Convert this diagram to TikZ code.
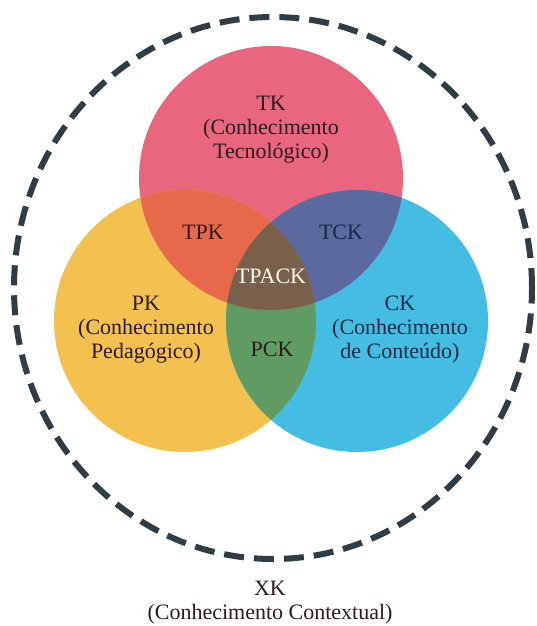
\documentclass[tikz,border=0pt]{standalone}
\usepackage{fontspec}
\setmainfont{Liberation Serif}
\definecolor{tkred}{HTML}{E8677E}
\definecolor{pkyellow}{HTML}{F2C14F}
\definecolor{ckblue}{HTML}{45BCE2}
\definecolor{tpkorange}{HTML}{E7694C}
\definecolor{tckblue}{HTML}{5B6A9E}
\definecolor{pckgreen}{HTML}{5F9B62}
\definecolor{tpackbrown}{HTML}{7A5F4B}
\definecolor{dashgray}{HTML}{2F3D47}
\definecolor{textdark}{HTML}{2E1A1C}
\definecolor{textnavy}{HTML}{102C44}

\begin{document}
\begin{tikzpicture}[x=1pt,y=-1pt,
    lbl/.style={align=center,text=textdark,font=\fontsize{22}{24}\selectfont}]
    \useasboundingbox (0,0) rectangle (537,626);
    \fill[white] (0,0) rectangle (537,626);

    % context ring
    \draw[dashgray,line width=6pt,dash pattern=on 20pt off 10pt]
        (273,288) ellipse [x radius=259pt,y radius=271pt];

    % the three circles
    \fill[tkred] (271,178) circle (132pt);
    \fill[pkyellow] (185,321) circle (131pt);
    \fill[ckblue] (357,321) circle (131pt);

    % overlaps
    \begin{scope}
        \clip (271,178) circle (132pt);
        \fill[tpkorange] (185,321) circle (131pt);
        \fill[tckblue] (357,321) circle (131pt);
    \end{scope}
    \begin{scope}
        \clip (185,321) circle (131pt);
        \fill[pckgreen] (357,321) circle (131pt);
    \end{scope}
    \begin{scope}
        \clip (271,178) circle (132pt);
        \clip (185,321) circle (131pt);
        \fill[tpackbrown] (357,321) circle (131pt);
    \end{scope}

    % labels
    \node[lbl] (tk) at (271,130) {TK\\(Conhecimento\\Tecnológico)};
    \node[lbl] (pk) at (146,330) {PK\\(Conhecimento\\Pedagógico)};
    \node[lbl,text=textnavy] (ck) at (400,330) {CK\\(Conhecimento\\de Conteúdo)};
    \node[lbl] (tpk) at (203,232) {TPK};
    \node[lbl,text=textnavy] (tck) at (341,232) {TCK};
    \node[lbl,text=white!92!yellow] (tpack) at (271,276) {TPACK};
    \node[lbl] (pck) at (272,349) {PCK};
    \node[lbl] (xk) at (270,603) {XK\\(Conhecimento Contextual)};
\end{tikzpicture}
\end{document}
